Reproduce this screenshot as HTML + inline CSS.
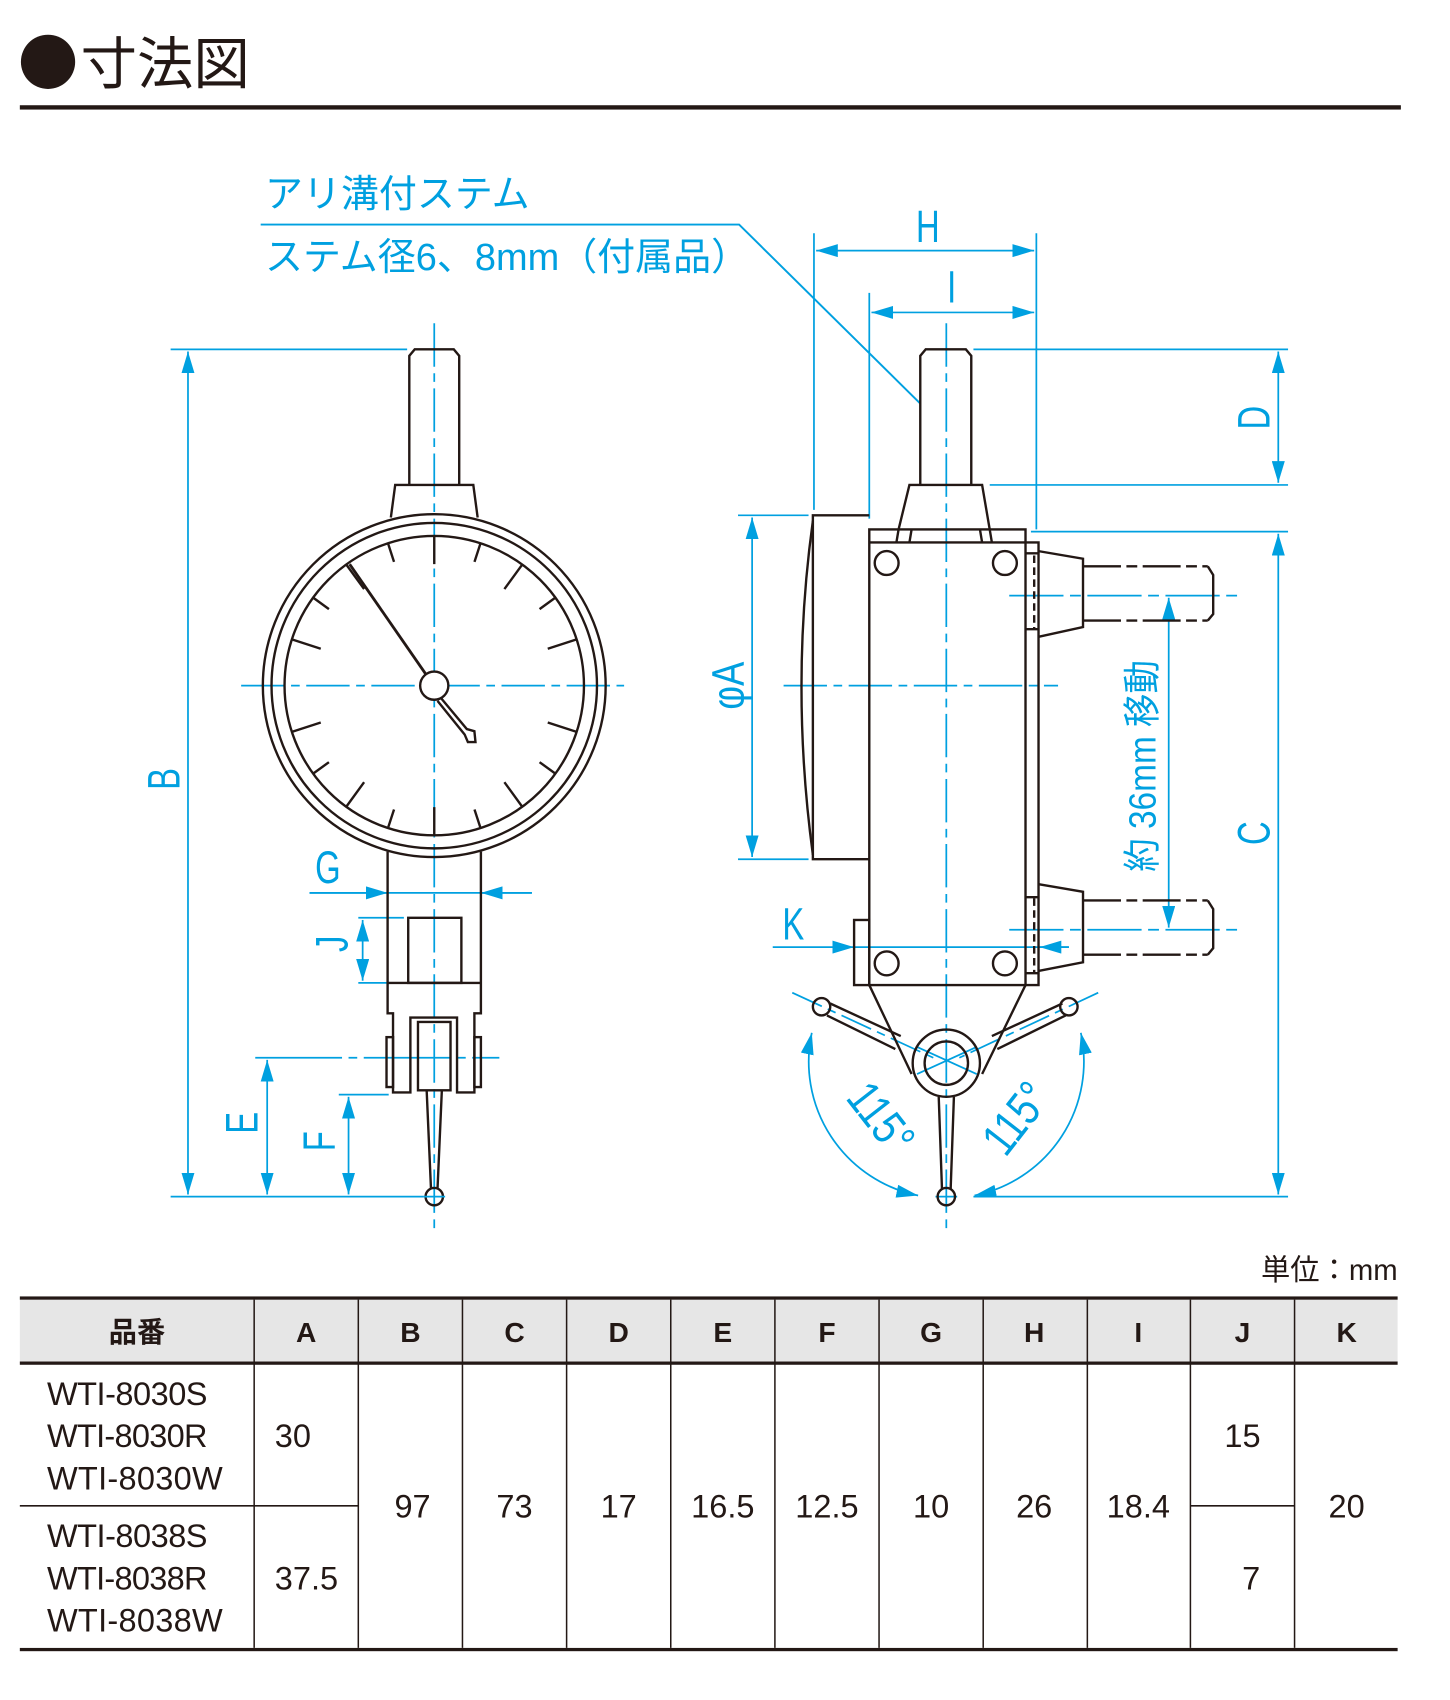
<!DOCTYPE html>
<html><head><meta charset="utf-8"><style>
html,body{margin:0;padding:0;background:#fff}
svg{display:block}
text{font-family:"Liberation Sans","Noto Sans CJK JP",sans-serif}
</style></head><body>
<svg width="1450" height="1700" viewBox="0 0 1336 1567" xmlns="http://www.w3.org/2000/svg">
<defs>
<marker id="a" viewBox="0 0 20 12" refX="20" refY="6" markerWidth="20" markerHeight="12" markerUnits="userSpaceOnUse" orient="auto-start-reverse"><path d="M0,0 L20,6 L0,12 Z" fill="#00a0e0"/></marker>
</defs>
<!-- title -->
<ellipse cx="44" cy="57" rx="25" ry="25" fill="#231815"/>
<text x="74" y="77" font-size="52" fill="#231815">寸法図</text>
<rect x="18" y="97" width="1273" height="4" fill="#231815"/>
<!-- labels -->
<g fill="#00a0e0" font-size="35">
<text x="244" y="191">アリ溝付ステム</text>
<text x="244" y="249">ステム径6、8mm（付属品）</text>
</g>
<g stroke="#00a0e0" stroke-width="1.8" fill="none">
<polyline points="240,207 681,207 848,372"/>
</g>

<!-- ===== LEFT VIEW ===== -->
<g stroke="#00a0e0" stroke-width="1.6" fill="none">
<line x1="400" y1="298" x2="400" y2="1133" stroke-dasharray="40,6,8,6"/>
<line x1="222" y1="632" x2="575" y2="632" stroke-dasharray="40,6,8,6"/>
<line x1="157" y1="322" x2="375" y2="322"/>
<line x1="157" y1="1103" x2="390" y2="1103"/>
<line x1="173" y1="324" x2="173" y2="1101" marker-start="url(#a)" marker-end="url(#a)"/>
<line x1="285" y1="823" x2="357" y2="823" marker-end="url(#a)"/>
<line x1="490" y1="823" x2="443" y2="823" marker-end="url(#a)"/>
<line x1="285" y1="823" x2="490" y2="823"/>
<line x1="330" y1="846" x2="372" y2="846"/>
<line x1="330" y1="906" x2="372" y2="906"/>
<line x1="334" y1="848" x2="334" y2="904" marker-start="url(#a)" marker-end="url(#a)"/>
<line x1="235" y1="975" x2="460" y2="975" stroke-dasharray="80,6,8,6"/>
<line x1="246" y1="977" x2="246" y2="1101" marker-start="url(#a)" marker-end="url(#a)"/>
<line x1="312" y1="1009" x2="358" y2="1009"/>
<line x1="321" y1="1011" x2="321" y2="1101" marker-start="url(#a)" marker-end="url(#a)"/>
</g>
<g fill="#00a0e0" font-size="42">
<text transform="translate(302,814) scale(0.72,1)" text-anchor="middle">G</text>
<text transform="translate(165,718) rotate(-90) scale(0.72,1)" text-anchor="middle">B</text>
<text transform="translate(237,1035) rotate(-90) scale(0.72,1)" text-anchor="middle">E</text>
<text transform="translate(308,1052) rotate(-90) scale(0.72,1)" text-anchor="middle">F</text>
<text transform="translate(320,870) rotate(-90) scale(0.72,1)" text-anchor="middle">J</text>
</g>
<g stroke="#231815" stroke-width="2.2" fill="none">
<path d="M377,447 V328 L382,322 H418 L423,328 V447"/>
<path d="M360,477 L364,447 H436 L440,477"/>
<circle cx="400" cy="632" r="158"/>
<circle cx="400" cy="632" r="150"/>
<circle cx="400" cy="632" r="138"/>
<line x1="400" y1="494" x2="400" y2="520"/>
<path d="M357,785 V934 H362 V1007 H378 V938 H421 V1007 H437 V934 H443 V785"/>
<rect x="376" y="846" width="49" height="60"/>
<line x1="357" y1="906" x2="443" y2="906"/>
<rect x="385" y="942" width="30" height="63"/>
<rect x="356" y="956" width="6" height="46"/>
<rect x="437" y="956" width="6" height="46"/>
<path d="M393,1005 L397,1096 M407,1005 L403,1096"/>
<circle cx="400" cy="1103" r="8"/>
<line x1="394" y1="624" x2="322" y2="520" stroke-width="2.6"/>
<path d="M405,642 L430,672 L437,674 L438,684 L431,684 L428,677 L403,646"/>
<circle cx="400" cy="632" r="13" fill="#fff"/>
</g>
<line x1="390" y1="1103" x2="410" y2="1103" stroke="#00a0e0" stroke-width="1.6"/>

<!-- ===== RIGHT VIEW ===== -->
<g stroke="#00a0e0" stroke-width="1.6" fill="none">
<line x1="872" y1="298" x2="872" y2="1133" stroke-dasharray="40,6,8,6"/>
<line x1="722" y1="632" x2="975" y2="632" stroke-dasharray="40,6,8,6"/>
<line x1="750" y1="215" x2="750" y2="470"/>
<line x1="801" y1="270" x2="801" y2="478"/>
<line x1="955" y1="215" x2="955" y2="488"/>
<line x1="752" y1="231" x2="953" y2="231" marker-start="url(#a)" marker-end="url(#a)"/>
<line x1="803" y1="288" x2="953" y2="288" marker-start="url(#a)" marker-end="url(#a)"/>
<line x1="897" y1="322" x2="1187" y2="322"/>
<line x1="912" y1="447" x2="1187" y2="447"/>
<line x1="1178" y1="324" x2="1178" y2="445" marker-start="url(#a)" marker-end="url(#a)"/>
<line x1="950" y1="490" x2="1187" y2="490"/>
<line x1="897" y1="1103" x2="1187" y2="1103"/>
<line x1="1178" y1="492" x2="1178" y2="1101" marker-start="url(#a)" marker-end="url(#a)"/>
<line x1="680" y1="475" x2="745" y2="475"/>
<line x1="680" y1="792" x2="745" y2="792"/>
<line x1="693" y1="477" x2="693" y2="790" marker-start="url(#a)" marker-end="url(#a)"/>
<line x1="712" y1="873" x2="787" y2="873" marker-end="url(#a)"/>
<line x1="787" y1="873" x2="985" y2="873"/>
<line x1="985" y1="873" x2="958" y2="873" marker-end="url(#a)"/>
<line x1="930" y1="549" x2="1140" y2="549" stroke-dasharray="50,6,10,6"/>
<line x1="930" y1="857" x2="1140" y2="857" stroke-dasharray="50,6,10,6"/>
<line x1="1077" y1="551" x2="1077" y2="855" marker-start="url(#a)" marker-end="url(#a)"/>
<line x1="730" y1="915" x2="860" y2="975" stroke-dasharray="30,6,8,6"/>
<line x1="1012" y1="915" x2="884" y2="975" stroke-dasharray="30,6,8,6"/>
<line x1="845" y1="990" x2="900" y2="965"/>
<line x1="845" y1="965" x2="900" y2="990"/>
<line x1="862" y1="1103" x2="882" y2="1103"/>
<path d="M748,952 A126,126 0 0 0 846,1102" marker-start="url(#a)" marker-end="url(#a)"/>
<path d="M996,952 A126,126 0 0 1 898,1102" marker-start="url(#a)" marker-end="url(#a)"/>
</g>
<g fill="#00a0e0" font-size="42">
<text transform="translate(855,223) scale(0.72,1)" text-anchor="middle">H</text>
<text transform="translate(877,279) scale(0.72,1)" text-anchor="middle">I</text>
<text transform="translate(731,866) scale(0.72,1)" text-anchor="middle">K</text>
<text transform="translate(1170,385) rotate(-90) scale(0.72,1)" text-anchor="middle">D</text>
<text transform="translate(1170,768) rotate(-90) scale(0.72,1)" text-anchor="middle">C</text>
<text transform="translate(685,632) rotate(-90) scale(0.8,1)" text-anchor="middle">φA</text>
<text transform="translate(1065,706) rotate(-90) scale(0.88,1)" text-anchor="middle" font-size="35">約 36mm 移動</text>
<text transform="translate(800,1040) rotate(52) scale(0.8,1)" text-anchor="middle" font-size="44">115°</text>
<text transform="translate(948,1040) rotate(-52) scale(0.8,1)" text-anchor="middle" font-size="44">115°</text>
</g>
<g stroke="#231815" stroke-width="2.2" fill="none">
<path d="M848,447 V328 L853,322 H890 L895,328 V447"/>
<path d="M828,488 L838,447 H905 L912,488"/>
<rect x="801" y="488" width="144" height="420"/>
<line x1="801" y1="500" x2="945" y2="500"/>
<path d="M828,488 L826,500 M840,488 L838,500 M903,488 L905,500 M912,488 L914,500"/>
<path d="M801,475 H749 V792 H801"/>
<path d="M749,480 Q728,632 749,788"/>
<circle cx="817" cy="519" r="11"/>
<circle cx="926" cy="519" r="11"/>
<circle cx="817" cy="888" r="11"/>
<circle cx="926" cy="888" r="11"/>
<rect x="787" y="848" width="14" height="60"/>
<path d="M945,500 H957 V908 H945"/>
<path d="M957,508 L998,515 V578 L957,587"/>
<path d="M957,815 L998,822 V887 L957,895"/>
<path d="M945,510 H957 M945,580 H957 M945,827 H957 M945,897 H957"/>
<line x1="953" y1="512" x2="953" y2="580" stroke-dasharray="7,4"/>
<line x1="953" y1="828" x2="953" y2="896" stroke-dasharray="7,4"/>
<path d="M998,522 H1113 M998,572 H1113" stroke-dasharray="35,5,10,5"/>
<path d="M998,830 H1113 M998,880 H1113" stroke-dasharray="35,5,10,5"/>
<path d="M1113,522 L1118,530 V566 L1113,572"/>
<path d="M1113,830 L1118,838 V874 L1113,880"/>
<path d="M801,908 L840,990 M945,908 L905,990"/>
<circle cx="872" cy="980" r="31"/>
<circle cx="872" cy="980" r="20"/>
<path d="M865,1011 L868,1096 M879,1011 L876,1096"/>
<circle cx="872" cy="1103" r="8"/>
<path d="M765,925 L830,955 M762,936 L825,967"/>
<circle cx="757" cy="928" r="8"/>
<path d="M979,925 L914,955 M982,936 L919,967"/>
<circle cx="985" cy="928" r="8"/>
</g>

<!-- ===== TABLE ===== -->
<text x="1288" y="1180" font-size="27" fill="#231815" text-anchor="end">単位：mm</text>
<rect x="18" y="1198" width="1270" height="58" fill="#e6e6e6"/>
<rect x="18" y="1195" width="1270" height="3" fill="#231815"/>
<rect x="18" y="1255" width="1270" height="3" fill="#231815"/>
<rect x="18" y="1519" width="1270" height="3" fill="#231815"/>
<g stroke="#231815" stroke-width="1.4">
<line x1="234" y1="1198" x2="234" y2="1519"/>
<line x1="330" y1="1198" x2="330" y2="1519"/>
<line x1="426" y1="1198" x2="426" y2="1519"/>
<line x1="522" y1="1198" x2="522" y2="1519"/>
<line x1="618" y1="1198" x2="618" y2="1519"/>
<line x1="714" y1="1198" x2="714" y2="1519"/>
<line x1="810" y1="1198" x2="810" y2="1519"/>
<line x1="906" y1="1198" x2="906" y2="1519"/>
<line x1="1002" y1="1198" x2="1002" y2="1519"/>
<line x1="1097" y1="1198" x2="1097" y2="1519"/>
<line x1="1193" y1="1198" x2="1193" y2="1519"/>
<line x1="18" y1="1388" x2="330" y2="1388"/>
<line x1="1097" y1="1388" x2="1193" y2="1388"/>
</g>
<g font-size="26" font-weight="bold" fill="#231815" text-anchor="middle">
<text x="126" y="1237">品番</text><text x="282" y="1237">A</text><text x="378" y="1237">B</text>
<text x="474" y="1237">C</text><text x="570" y="1237">D</text><text x="666" y="1237">E</text>
<text x="762" y="1237">F</text><text x="858" y="1237">G</text><text x="953" y="1237">H</text>
<text x="1049" y="1237">I</text><text x="1145" y="1237">J</text><text x="1241" y="1237">K</text>
</g>
<g font-size="30" fill="#231815">
<text x="43" y="1295" textLength="148">WTI-8030S</text>
<text x="43" y="1334" textLength="148">WTI-8030R</text>
<text x="43" y="1373" textLength="162">WTI-8030W</text>
<text x="43" y="1426" textLength="148">WTI-8038S</text>
<text x="43" y="1465" textLength="148">WTI-8038R</text>
<text x="43" y="1504" textLength="162">WTI-8038W</text>
<text x="253" y="1334">30</text>
<text x="253" y="1465">37.5</text>
</g>
<g font-size="30" fill="#231815" text-anchor="middle">
<text x="380" y="1399">97</text><text x="474" y="1399">73</text><text x="570" y="1399">17</text>
<text x="666" y="1399">16.5</text><text x="762" y="1399">12.5</text><text x="858" y="1399">10</text>
<text x="953" y="1399">26</text><text x="1049" y="1399">18.4</text><text x="1145" y="1334">15</text>
<text x="1153" y="1465">7</text><text x="1241" y="1399">20</text>
</g>
<g stroke="#231815" stroke-width="2.2">
<line x1="400" y1="494" x2="400" y2="520" transform="rotate(180,400,632)"/>
<line x1="400" y1="494" x2="400" y2="512" transform="rotate(18,400,632)"/>
<line x1="400" y1="494" x2="400" y2="512" transform="rotate(-18,400,632)"/>
<line x1="400" y1="494" x2="400" y2="522" transform="rotate(36,400,632)"/>
<line x1="400" y1="494" x2="400" y2="522" transform="rotate(-36,400,632)"/>
<line x1="400" y1="494" x2="400" y2="512" transform="rotate(54,400,632)"/>
<line x1="400" y1="494" x2="400" y2="512" transform="rotate(-54,400,632)"/>
<line x1="400" y1="494" x2="400" y2="522" transform="rotate(72,400,632)"/>
<line x1="400" y1="494" x2="400" y2="522" transform="rotate(-72,400,632)"/>
<line x1="400" y1="494" x2="400" y2="522" transform="rotate(108,400,632)"/>
<line x1="400" y1="494" x2="400" y2="522" transform="rotate(-108,400,632)"/>
<line x1="400" y1="494" x2="400" y2="512" transform="rotate(126,400,632)"/>
<line x1="400" y1="494" x2="400" y2="512" transform="rotate(-126,400,632)"/>
<line x1="400" y1="494" x2="400" y2="522" transform="rotate(144,400,632)"/>
<line x1="400" y1="494" x2="400" y2="522" transform="rotate(-144,400,632)"/>
<line x1="400" y1="494" x2="400" y2="512" transform="rotate(162,400,632)"/>
<line x1="400" y1="494" x2="400" y2="512" transform="rotate(-162,400,632)"/>
</g>
</svg>
</body></html>
